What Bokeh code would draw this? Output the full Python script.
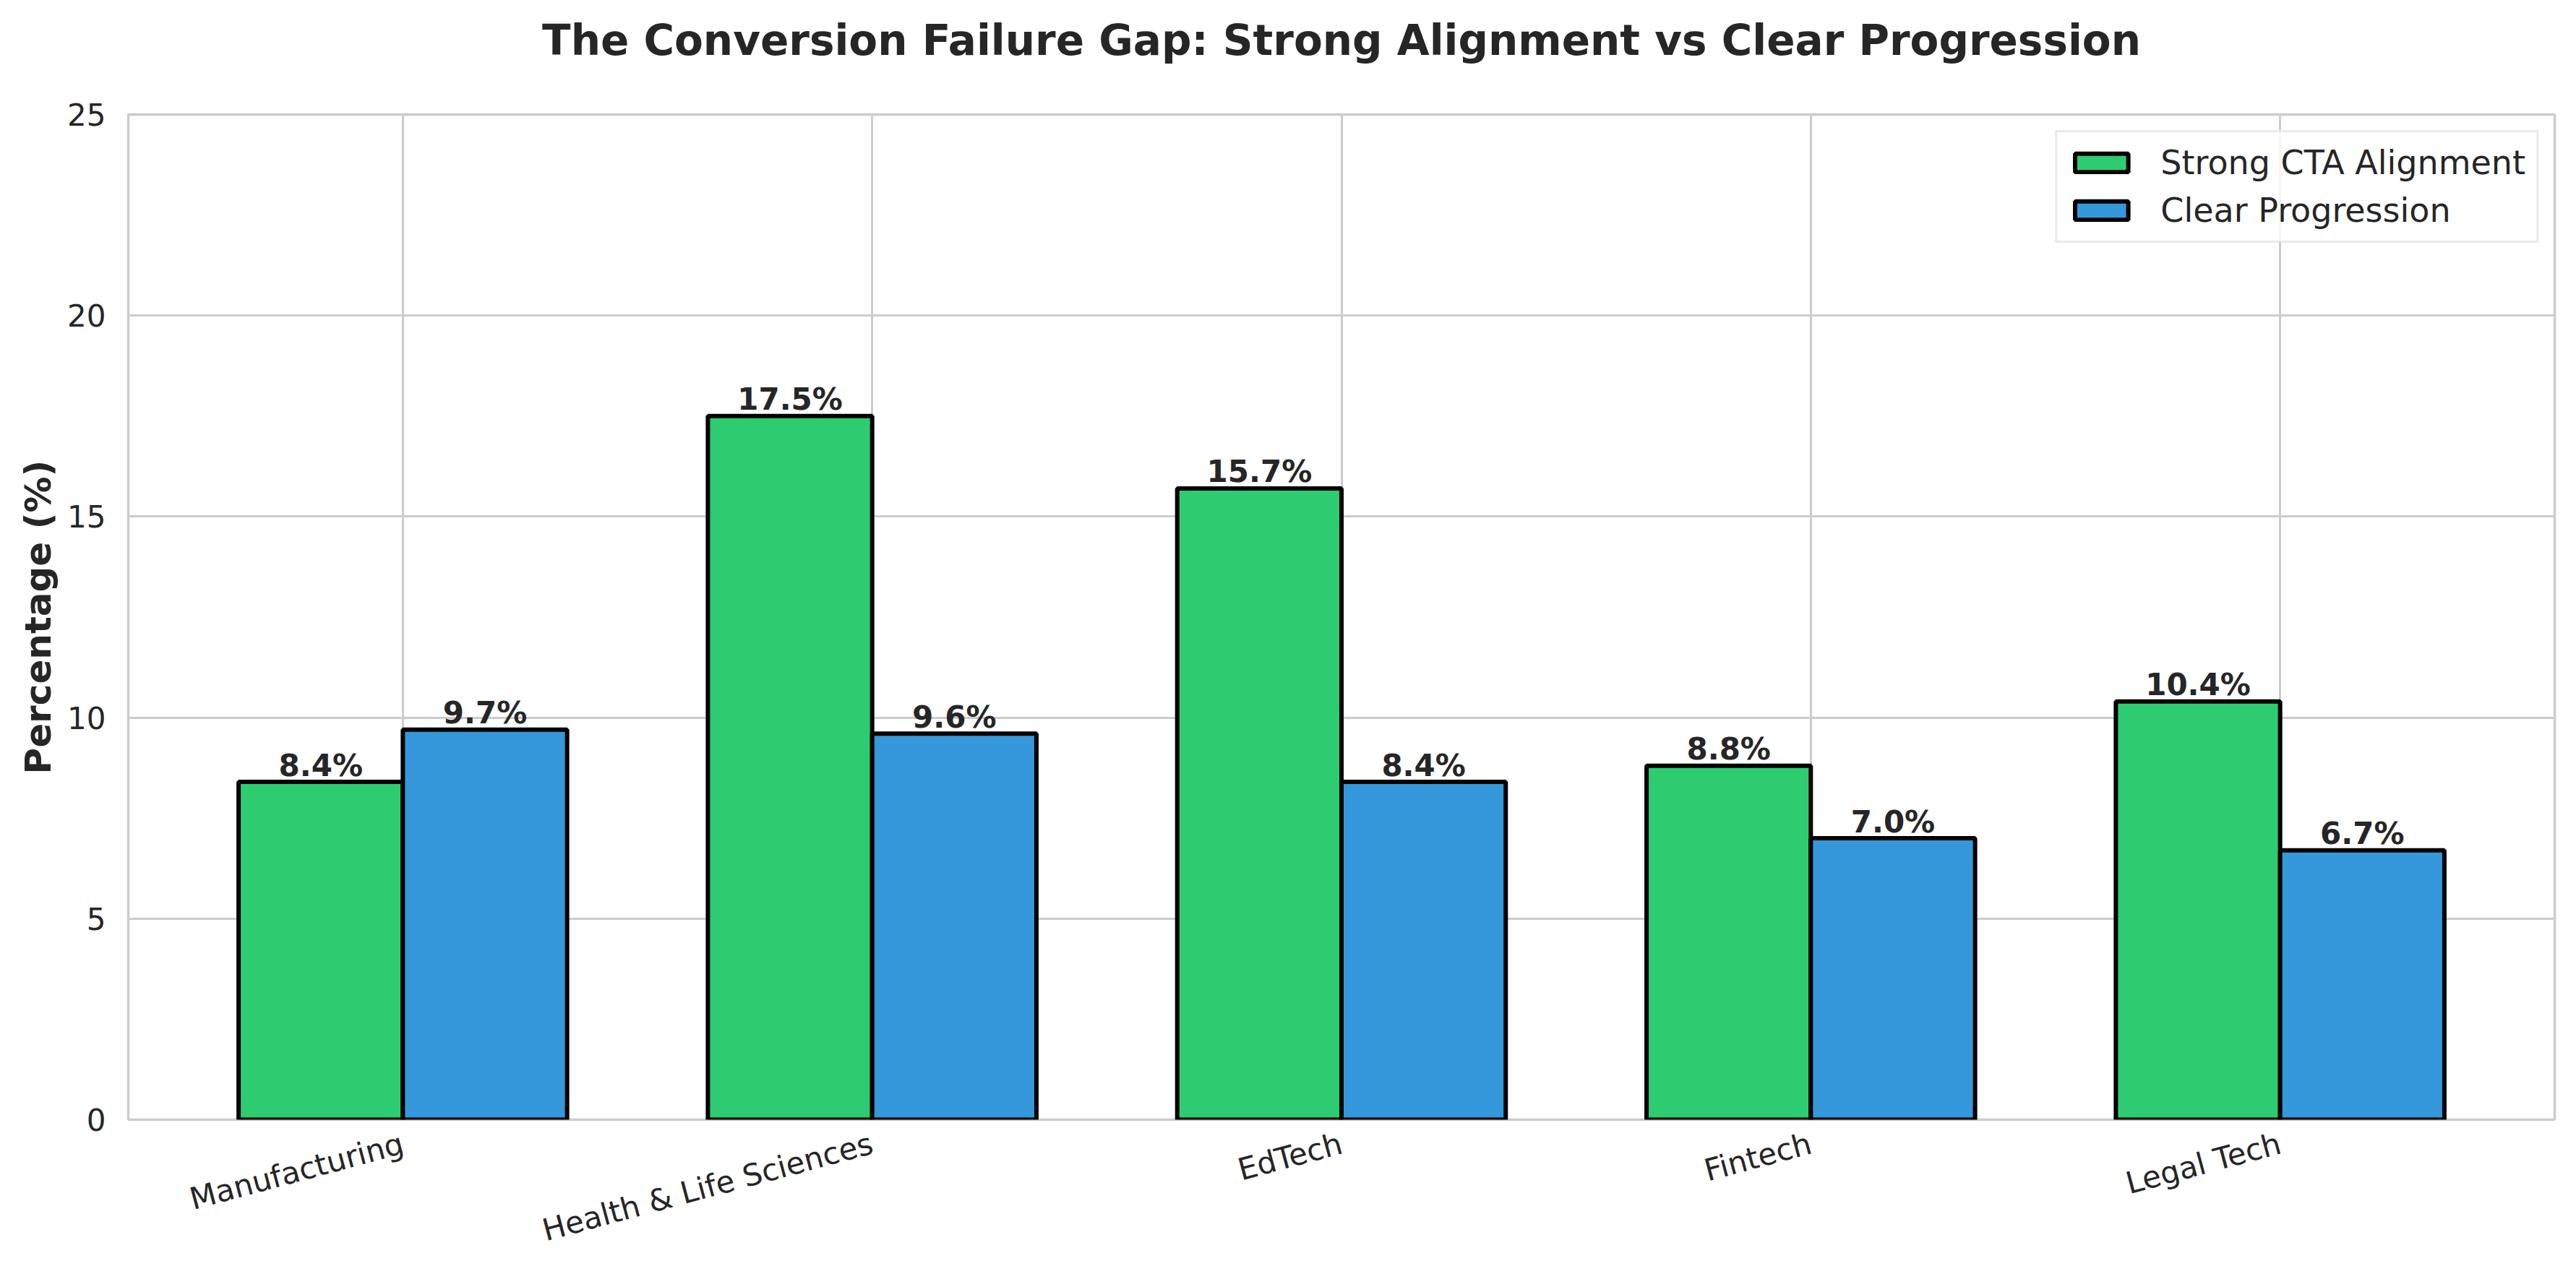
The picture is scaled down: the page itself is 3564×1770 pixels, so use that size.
import math
from bokeh.plotting import figure
from bokeh.models import FixedTicker, Legend, LegendItem, ColumnDataSource, Title
from bokeh.core.properties import value
from bokeh.embed import file_html
from bokeh.resources import INLINE

# ---- data ----
categories = ["Manufacturing", "Health & Life Sciences", "EdTech", "Fintech", "Legal Tech"]
strong_cta = [8.4, 17.5, 15.7, 8.8, 10.4]
clear_prog = [9.7, 9.6, 8.4, 7.0, 6.7]
series_names = ["Strong CTA Alignment", "Clear Progression"]
y_ticks = [0, 5, 10, 15, 20, 25]
title_text = "The Conversion Failure Gap: Strong Alignment vs Clear Progression"
y_label = "Percentage (%)"

# ---- style ----
FONT = "DejaVu Sans"
TXT = "#262626"
GRID = "#cccccc"
GREEN = "#2ecc71"
BLUE = "#3498db"
bar_w = 0.35

xpos = list(range(len(categories)))
src = ColumnDataSource(dict(
    x=xpos,
    xs=[i - bar_w / 2 for i in xpos],
    xc=[i + bar_w / 2 for i in xpos],
    strong=strong_cta,
    clear=clear_prog,
    ls=[f"{v:.1f}%" for v in strong_cta],
    lc=[f"{v:.1f}%" for v in clear_prog],
))

p = figure(width=3548, height=1754, output_backend="svg", toolbar_location=None,
           x_range=(-0.585, 4.585), y_range=(0, 25),
           min_border_left=177, min_border_right=14, min_border_top=158,
           min_border_bottom=205)
p.background_fill_color = "white"
p.border_fill_color = "white"

# real title (outer panel) + spacer (inner panel, next to the frame)
p.title.text = title_text
p.title.align = "center"
p.title.text_font = FONT
p.title.text_font_size = "58px"
p.title.text_font_style = "bold"
p.title.text_color = TXT
p.title.standoff = 0
p.add_layout(Title(text=" ", text_font_size="1px", standoff=66), "above")

r1 = p.vbar(x="xs", top="strong", bottom=0, width=bar_w, source=src,
            fill_color=GREEN, line_color="black", line_width=6)
r2 = p.vbar(x="xc", top="clear", bottom=0, width=bar_w, source=src,
            fill_color=BLUE, line_color="black", line_width=6)

for xcol, ycol, tcol in [("xs", "strong", "ls"), ("xc", "clear", "lc")]:
    p.text(x=xcol, y=ycol, text=tcol, source=src, text_align="center",
           text_baseline="alphabetic", y_offset=-23,
           text_font=value(FONT), text_font_style="bold",
           text_font_size="42px", text_color=TXT)

# axes
p.xaxis.ticker = FixedTicker(ticks=xpos)
p.xaxis.major_label_overrides = {i: c for i, c in zip(xpos, categories)}
p.xaxis.major_label_orientation = math.radians(15)
p.yaxis.ticker = FixedTicker(ticks=y_ticks)
for ax in (p.xaxis[0], p.yaxis[0]):
    ax.axis_line_color = None
    ax.major_tick_line_color = None
    ax.minor_tick_line_color = None
    ax.major_tick_out = 0
    ax.major_tick_in = 0
    ax.major_label_text_font = FONT
    ax.major_label_text_font_size = "42px"
    ax.major_label_text_color = TXT
p.yaxis.major_label_standoff = 31
p.xaxis.major_label_standoff = 32
p.yaxis.axis_label = y_label
p.yaxis.axis_label_text_font = FONT
p.yaxis.axis_label_text_font_size = "50px"
p.yaxis.axis_label_text_font_style = "bold"
p.yaxis.axis_label_text_color = TXT
p.yaxis.axis_label_standoff = 8

p.xgrid.grid_line_color = GRID
p.xgrid.grid_line_width = 3
p.ygrid.grid_line_color = GRID
p.ygrid.grid_line_width = 3
p.outline_line_color = GRID
p.outline_line_width = 3.5

legend = Legend(items=[LegendItem(label=series_names[0], renderers=[r1]),
                       LegendItem(label=series_names[1], renderers=[r2])],
                location="top_right", margin=22, padding=15, spacing=12,
                glyph_width=92, glyph_height=32, label_standoff=36,
                label_text_font=FONT, label_text_font_size="46px",
                label_text_color=TXT, border_line_color="#d6d6d6",
                border_line_width=3.5, background_fill_alpha=0.8)
p.add_layout(legend)

open("out.html", "w").write(file_html(p, INLINE))
